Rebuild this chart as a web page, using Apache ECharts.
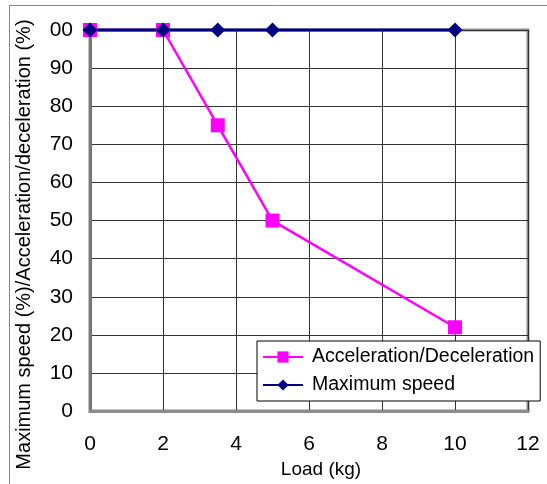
<!DOCTYPE html>
<html>
<head>
<meta charset="utf-8">
<script src="https://cdn.jsdelivr.net/npm/echarts@6/dist/echarts.min.js"></script>
<style>html,body{margin:0;padding:0;background:#fff;}#c{width:547px;height:484px;}</style>
</head>
<body>
<div id="c"></div>
<script>
var seriesNames = ['Acceleration/Deceleration', 'Maximum speed'];
var accelLoad = [0, 2, 3.5, 5, 10];
var accelValues = [100, 100, 75, 50, 22];
var speedLoad = [0, 2, 3.5, 5, 10];
var speedValues = [100, 100, 100, 100, 100];
var yTickLabels = ['0', '10', '20', '30', '40', '50', '60', '70', '80', '90', '00'];
var xTickLabels = ['0', '2', '4', '6', '8', '10', '12'];

function pairs(xs, ys) { return xs.map(function (x, i) { return [x, ys[i]]; }); }

var font = 'Liberation Sans, Arial, sans-serif';
var chart = echarts.init(document.getElementById('c'));
chart.setOption({
  animation: false,
  backgroundColor: '#fff',
  graphic: [{
    type: 'rect', left: 7, top: 3, shape: { width: 600, height: 600 },
    style: { fill: 'none', stroke: '#888', lineWidth: 1 }, z: -1
  }],
  grid: { left: 90, right: 19, top: 30, bottom: 70, show: true, borderColor: '#8c8c8c', borderWidth: 3 },
  xAxis: {
    type: 'value', min: 0, max: 12, interval: 2,
    name: 'Load (kg)', nameLocation: 'middle', nameGap: 46,
    nameTextStyle: { fontFamily: font, fontSize: 19, color: '#000', padding: [0, 0, 0, 24] },
    axisLine: { show: true, lineStyle: { color: '#8c8c8c', width: 3 } },
    axisTick: { show: false },
    axisLabel: { margin: 23, fontFamily: font, fontSize: 21, color: '#000',
      formatter: function (v) { return xTickLabels[Math.round(v / 2)]; } },
    splitLine: { show: true, lineStyle: { color: '#333', width: 1 } }
  },
  yAxis: {
    type: 'value', min: 0, max: 100, interval: 10,
    name: 'Maximum speed (%)/Acceleration/deceleration (%)', nameLocation: 'middle', nameGap: 56,
    nameTextStyle: { fontFamily: font, fontSize: 20, color: '#000', padding: [0, 48, 0, 0] },
    axisLine: { show: true, lineStyle: { color: '#777', width: 3 } },
    axisTick: { show: false },
    axisLabel: { margin: 17, fontFamily: font, fontSize: 21, color: '#000',
      formatter: function (v) { return yTickLabels[Math.round(v / 10)]; } },
    splitLine: { show: true, lineStyle: { color: '#333', width: 1 } }
  },
  legend: {
    orient: 'vertical', left: 257, top: 341, padding: [6, 6, 6, 5],
    itemWidth: 40, itemHeight: 14, itemGap: 8,
    backgroundColor: '#fff', borderColor: '#000', borderWidth: 1, borderRadius: 0,
    textStyle: { fontFamily: font, fontSize: 19.5, color: '#000', padding: [0, 0, 0, 4] },
    data: seriesNames
  },
  series: [{
    name: seriesNames[0], type: 'line', data: pairs(accelLoad, accelValues),
    symbol: 'rect', symbolSize: 14, clip: false,
    lineStyle: { color: '#ff00ff', width: 2.5 }, itemStyle: { color: '#ff00ff' }
  }, {
    name: seriesNames[1], type: 'line', data: pairs(speedLoad, speedValues),
    symbol: 'diamond', symbolSize: 15, clip: false,
    lineStyle: { color: '#000080', width: 3 }, itemStyle: { color: '#000080' }
  }]
});
</script>
</body>
</html>
